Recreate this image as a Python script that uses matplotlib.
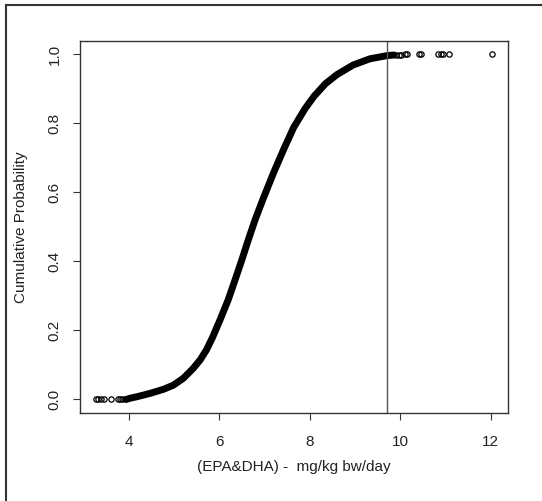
import matplotlib
matplotlib.use("Agg")
import matplotlib.pyplot as plt
from matplotlib.lines import Line2D

plt.rcParams['font.family'] = ['Liberation Sans', 'DejaVu Sans']

# main body of the cumulative curve
curve_x = [3.96, 4.03, 4.20, 4.47, 4.77, 4.99, 5.21, 5.43, 5.58, 5.72, 5.85,
           6.02, 6.20, 6.35, 6.50, 6.64, 6.79, 6.97, 7.20, 7.42, 7.65, 7.90,
           8.10, 8.35, 8.60, 8.96, 9.33, 9.70, 9.86]
curve_p = [0.000, 0.003, 0.008, 0.017, 0.029, 0.041, 0.061, 0.090, 0.114,
           0.143, 0.178, 0.230, 0.288, 0.345, 0.403, 0.460, 0.518, 0.580,
           0.655, 0.722, 0.788, 0.842, 0.878, 0.914, 0.940, 0.968, 0.986,
           0.995, 0.997]

# isolated points in the tails
tail_lo_x = [3.28, 3.32, 3.38, 3.46, 3.62, 3.76, 3.81, 3.86, 3.91]
tail_lo_p = [0.0, 0.0, 0.0, 0.0, 0.0, 0.0, 0.0, 0.0, 0.0]
tail_hi_x = [9.90, 9.97, 10.02, 10.10, 10.14, 10.42, 10.45, 10.84, 10.90,
             10.95, 11.08, 12.03]
tail_hi_p = [0.998, 0.998, 0.998, 0.999, 0.999, 0.999, 0.999, 0.999, 1.0,
             1.0, 1.0, 1.0]

cutoff = 9.7

xticks = [4, 6, 8, 10, 12]
yticks = [0.0, 0.2, 0.4, 0.6, 0.8, 1.0]
ytick_labels = ["0.0", "0.2", "0.4", "0.6", "0.8", "1.0"]

fig = plt.figure(figsize=(5.42, 5.01), dpi=100)
ax = fig.add_axes([0.148, 0.1756, 0.789, 0.7432])

ax.plot(curve_x, curve_p, color='black', lw=5.0,
        solid_capstyle='round', solid_joinstyle='round')
ax.plot(tail_lo_x, tail_lo_p, ls='none', marker='o', ms=3.8,
        mfc='none', mec='black', mew=0.9)
ax.plot(tail_hi_x, tail_hi_p, ls='none', marker='o', ms=3.8,
        mfc='none', mec='black', mew=0.9)
ax.axvline(cutoff, color='#555555', lw=1.0)

ax.set_xlim(2.931, 12.379)
ax.set_ylim(-0.0397, 1.0385)
ax.set_xticks(xticks)
ax.set_yticks(yticks)
ax.set_yticklabels(ytick_labels, rotation=90, va='center')

txtcol = '#222222'
ax.tick_params(axis='x', length=5, width=0.8, color='#333333',
               labelsize=11, labelcolor=txtcol, pad=11)
ax.tick_params(axis='y', length=5, width=0.8, color='#333333',
               labelsize=11, labelcolor=txtcol, pad=8.5)
for s in ax.spines.values():
    s.set_color('#333333')
    s.set_linewidth(1.0)

ax.set_xlabel("(EPA&DHA) -  mg/kg bw/day", fontsize=11, color=txtcol,
              labelpad=8)
ax.set_ylabel("Cumulative Probability", fontsize=11, color=txtcol,
              labelpad=14)

# frame lines on the left and top of the picture
fig.add_artist(Line2D([6 / 542, 6 / 542], [0, 1 - 5 / 501],
                      transform=fig.transFigure, color='#333333', lw=1.5))
fig.add_artist(Line2D([6 / 542, 1], [1 - 5 / 501, 1 - 5 / 501],
                      transform=fig.transFigure, color='#333333', lw=1.5))

fig.savefig("out.png", dpi=100)
